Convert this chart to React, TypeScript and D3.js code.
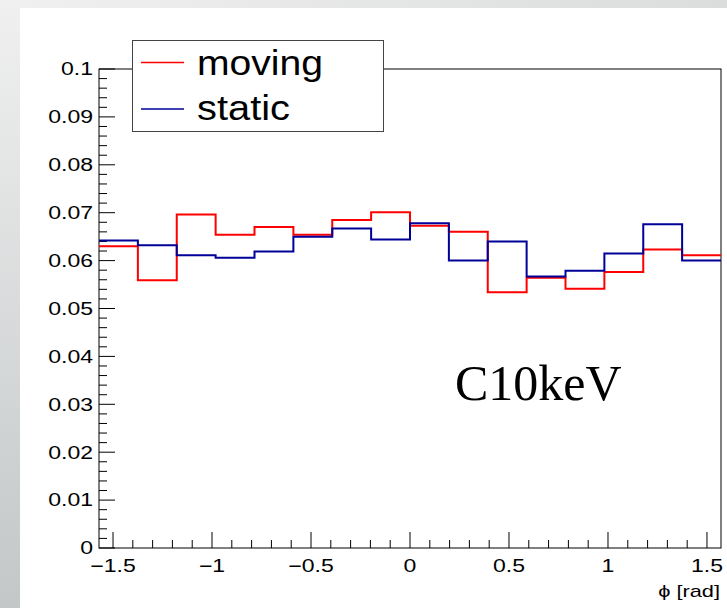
import React from "react";
import * as d3 from "d3";

// Normalised phi distributions, 16 bins over [-pi/2, pi/2]
const movingValues = [
  0.0630, 0.0559, 0.0696, 0.0654, 0.0670, 0.0654, 0.0685, 0.0701,
  0.0673, 0.0660, 0.0534, 0.0564, 0.0541, 0.0576, 0.0623, 0.0611,
];
const staticValues = [
  0.0642, 0.0632, 0.0611, 0.0606, 0.0619, 0.0650, 0.0667, 0.0644,
  0.0678, 0.0600, 0.0640, 0.0567, 0.0579, 0.0615, 0.0676, 0.0600,
];
const seriesNames = ["moving", "static"];
const xTicks = [-1.5, -1, -0.5, 0, 0.5, 1, 1.5];
const yTicks = [0, 0.01, 0.02, 0.03, 0.04, 0.05, 0.06, 0.07, 0.08, 0.09, 0.1];

const W = 727;
const H = 608;
const frame = { left: 99, right: 721, top: 69, bottom: 548 };
const font = "'Liberation Sans', Arial, Helvetica, sans-serif";
const stretch = 1.28;

// Text widened horizontally, anchored at (x, y)
function WideText(props: {
  x: number;
  y: number;
  anchor: "start" | "middle" | "end";
  size: number;
  dy?: string;
  children: React.ReactNode;
}) {
  return (
    <g transform={`translate(${props.x},${props.y}) scale(${stretch},1)`}>
      <text x={0} y={0} dy={props.dy} textAnchor={props.anchor} fontSize={props.size} fill="#000">
        {props.children}
      </text>
    </g>
  );
}

export default function App() {
  const xMin = -Math.PI / 2;
  const xMax = Math.PI / 2;
  const nBins = movingValues.length;
  const x = d3.scaleLinear().domain([xMin, xMax]).range([frame.left, frame.right]);
  const y = d3.scaleLinear().domain([0, 0.1]).range([frame.bottom, frame.top]);
  const binW = (xMax - xMin) / nBins;

  const stepPath = (vals: number[]) => {
    const pts: [number, number][] = vals.map((v, i) => [xMin + i * binW, v]);
    pts.push([xMax, vals[vals.length - 1]]);
    return d3
      .line<[number, number]>()
      .x((d) => x(d[0]))
      .y((d) => y(d[1]))
      .curve(d3.curveStepAfter)(pts) as string;
  };

  const yMinor = d3.range(0, 0.1 + 1e-9, 0.002).filter((v) => Math.round(v * 1000) % 10 !== 0);
  const xMinor = d3.range(-15, 16).map((k) => k / 10).filter((v) => Math.round(v * 10) % 5 !== 0);

  const fmtY = (v: number) => (v === 0 ? "0" : d3.format(".2~f")(v));
  const fmtX = (v: number) => String(v).replace("-", "\u2212");

  return (
    <svg
      width={W}
      height={H}
      style={{ position: "absolute", left: 0, top: 0, display: "block" }}
      fontFamily={font}
    >
      <defs>
        <linearGradient id="leftStrip" x1="0" y1="0" x2="0" y2="1">
          <stop offset="0" stopColor="#f0f0f0" />
          <stop offset="1" stopColor="#c3c7c8" />
        </linearGradient>
        <linearGradient id="topStrip" x1="0" y1="0" x2="1" y2="0">
          <stop offset="0" stopColor="#f0f0f0" />
          <stop offset="1" stopColor="#dbdcdc" />
        </linearGradient>
      </defs>
      <rect x={0} y={0} width={W} height={H} fill="url(#leftStrip)" />
      <rect x={20} y={0} width={W - 20} height={8} fill="url(#topStrip)" />
      <rect x={20} y={8} width={W - 20} height={H - 8} fill="#ffffff" />

      {/* frame */}
      <rect
        x={frame.left}
        y={frame.top}
        width={frame.right - frame.left}
        height={frame.bottom - frame.top}
        fill="none"
        stroke="#000"
        strokeWidth={1}
      />

      {/* y axis ticks */}
      {yTicks.map((v) => (
        <g key={"yt" + v}>
          <line x1={frame.left} x2={frame.left + 16} y1={y(v)} y2={y(v)} stroke="#000" />
          <WideText x={93} y={y(v)} dy="0.35em" anchor="end" size={18}>
            {fmtY(v)}
          </WideText>
        </g>
      ))}
      {yMinor.map((v) => (
        <line key={"ym" + v} x1={frame.left} x2={frame.left + 8} y1={y(v)} y2={y(v)} stroke="#000" />
      ))}

      {/* x axis ticks */}
      {xTicks.map((v) => (
        <g key={"xt" + v}>
          <line x1={x(v)} x2={x(v)} y1={frame.bottom} y2={frame.bottom - 16} stroke="#000" />
          <WideText x={x(v)} y={frame.bottom + 24} anchor="middle" size={18}>
            {fmtX(v)}
          </WideText>
        </g>
      ))}
      {xMinor.map((v) => (
        <line key={"xm" + v} x1={x(v)} x2={x(v)} y1={frame.bottom} y2={frame.bottom - 8} stroke="#000" />
      ))}
      <WideText x={frame.right - 1} y={597} anchor="end" size={17}>
        {"\u03D5 [rad]"}
      </WideText>

      {/* histograms */}
      <path d={stepPath(movingValues)} fill="none" stroke="#ff0000" strokeWidth={2} />
      <path d={stepPath(staticValues)} fill="none" stroke="#000099" strokeWidth={2} />

      {/* legend */}
      <rect x={132.5} y={40.5} width={251} height={91} fill="#fff" stroke="#444" strokeWidth={1} />
      <line x1={141} x2={184} y1={62.5} y2={62.5} stroke="#ff0000" strokeWidth={1.5} />
      <line x1={141} x2={184} y1={109} y2={109} stroke="#000099" strokeWidth={1.5} />
      <text x={197} y={75} fontSize={35} fill="#000" textLength={126} lengthAdjust="spacingAndGlyphs">
        {seriesNames[0]}
      </text>
      <text x={197} y={119.5} fontSize={35} fill="#000" textLength={93} lengthAdjust="spacingAndGlyphs">
        {seriesNames[1]}
      </text>

      <text
        x={455}
        y={400}
        fontSize={50}
        fill="#000"
        fontFamily="'Liberation Serif', 'Times New Roman', serif"
      >
        C10keV
      </text>
    </svg>
  );
}
